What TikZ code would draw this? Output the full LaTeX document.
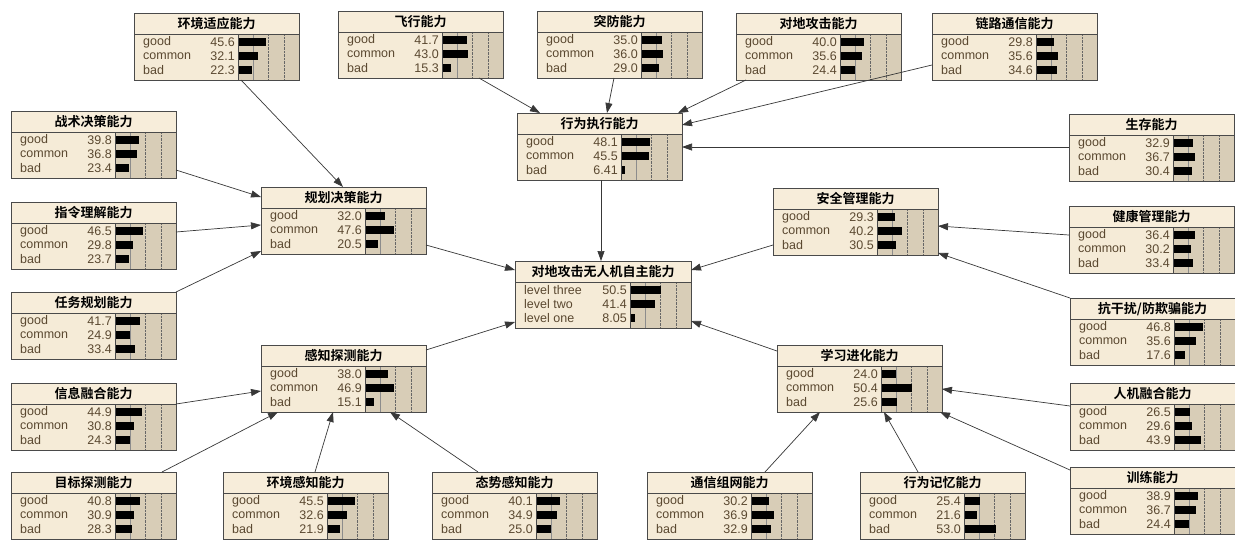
\documentclass[tikz,border=0pt]{standalone}
\usepackage{fontspec}
\setmainfont{Liberation Sans}
\newfontfamily\cjk{Noto Sans CJK SC}[BoldFont={Noto Sans CJK SC Bold}]
\usetikzlibrary{arrows.meta,calc}
\definecolor{titlefill}{HTML}{F7EDDA}
\definecolor{bodyfill}{HTML}{F5EBD7}
\definecolor{barfill}{HTML}{D8CDB7}
\definecolor{bordercol}{HTML}{4A4A4A}
\definecolor{txtcol}{HTML}{5A4830}
\definecolor{edgecol}{HTML}{383838}
\tikzset{
  boxnode/.style={draw=bordercol,line width=0.8pt,minimum height=67pt,anchor=north west,inner sep=0pt,outer sep=0pt},
  lbl/.style={anchor=west,inner sep=0pt,text=txtcol,font=\fontsize{12.5}{12.5}\selectfont},
  num/.style={anchor=east,inner sep=0pt,text=txtcol,font=\fontsize{12.5}{12.5}\selectfont},
  ttl/.style={inner sep=0pt,font=\cjk\bfseries\fontsize{13}{13}\selectfont},
  divline/.style={draw=bordercol,line width=0.7pt},
  gridA/.style={draw=black!45,line width=0.4pt},
  gridB/.style={draw=black!60,line width=0.4pt,densely dotted},
  arr/.style={draw=edgecol,line width=0.7pt,-{Triangle[length=10pt,width=7pt]}}
}
\newcommand{\bnet}[6][165]{%
  \fill[bodyfill] (#3,#4) rectangle ++(#1,67);
  \fill[titlefill] (#3,#4) rectangle ++(#1,21);
  \fill[barfill] (#3+#1-61,#4+21) rectangle (#3+#1,#4+67);
  \draw[gridA] (#3+#1-45.75,#4+21) -- (#3+#1-45.75,#4+67);
  \draw[gridB] (#3+#1-30.5,#4+21) -- (#3+#1-30.5,#4+67);
  \draw[gridB] (#3+#1-15.25,#4+21) -- (#3+#1-15.25,#4+67);
  \foreach \s/\v [count=\i] in {#6} {
    \fill[black] (#3+#1-61,#4+11+14*\i) rectangle ++(\v*0.61,8);
    \node[lbl] (#2-s\i) at (#3+9,#4+15+14*\i) {\s};
    \node[num] (#2-v\i) at (#3+#1-64,#4+15+14*\i) {\v};
  }
  \draw[divline] (#3+#1-61,#4+21) -- (#3+#1-61,#4+67);
  \draw[divline] (#3,#4+21) -- (#3+#1,#4+21);
  \node[ttl] (#2-t) at (#3+#1/2,#4+11) {#5};
  \node[boxnode,minimum width=#1pt] (#2) at (#3,#4) {};
}
\newcommand{\bnlink}[4]{\draw[arr] ($(#1.north west)+(#2)$) -- ($(#3.north west)+(#4)$);}
\begin{document}
\begin{tikzpicture}[x=1pt,y=-1pt]
\fill[white] (0,0) rectangle (1235,539);
\useasboundingbox (0,0) rectangle (1235,539);
\bnet{envA}{134}{13}{环境适应能力}{good/45.6,common/32.1,bad/22.3}
\bnet{fly}{338}{11}{飞行能力}{good/41.7,common/43.0,bad/15.3}
\bnet{pen}{537}{11}{突防能力}{good/35.0,common/36.0,bad/29.0}
\bnet{gatk}{736}{13}{对地攻击能力}{good/40.0,common/35.6,bad/24.4}
\bnet{link}{932}{13}{链路通信能力}{good/29.8,common/35.6,bad/34.6}
\bnet{exec}{517}{113}{行为执行能力}{good/48.1,common/45.5,bad/6.41}
\bnet{surv}{1069}{114}{生存能力}{good/32.9,common/36.7,bad/30.4}
\bnet{tact}{11}{111}{战术决策能力}{good/39.8,common/36.8,bad/23.4}
\bnet{plan}{261}{187}{规划决策能力}{good/32.0,common/47.6,bad/20.5}
\bnet{safe}{773}{188}{安全管理能力}{good/29.3,common/40.2,bad/30.5}
\bnet{cmd}{11}{202}{指令理解能力}{good/46.5,common/29.8,bad/23.7}
\bnet{health}{1069}{206}{健康管理能力}{good/36.4,common/30.2,bad/33.4}
\bnet[176]{root}{515}{261}{对地攻击无人机自主能力}{level three/50.5,level two/41.4,level one/8.05}
\bnet{task}{11}{292}{任务规划能力}{good/41.7,common/24.9,bad/33.4}
\bnet{anti}{1070}{298}{抗干扰/防欺骗能力}{good/46.8,common/35.6,bad/17.6}
\bnet{sense}{261}{345}{感知探测能力}{good/38.0,common/46.9,bad/15.1}
\bnet{learn}{777}{345}{学习进化能力}{good/24.0,common/50.4,bad/25.6}
\bnet{fuse}{11}{383}{信息融合能力}{good/44.9,common/30.8,bad/24.3}
\bnet{hmi}{1070}{383}{人机融合能力}{good/26.5,common/29.6,bad/43.9}
\bnet{tgt}{11}{472}{目标探测能力}{good/40.8,common/30.9,bad/28.3}
\bnet{envP}{223}{472}{环境感知能力}{good/45.5,common/32.6,bad/21.9}
\bnet{sit}{432}{472}{态势感知能力}{good/40.1,common/34.9,bad/25.0}
\bnet{net}{647}{472}{通信组网能力}{good/30.2,common/36.9,bad/32.9}
\bnet{mem}{860}{472}{行为记忆能力}{good/25.4,common/21.6,bad/53.0}
\bnet{train}{1070}{467}{训练能力}{good/38.9,common/36.7,bad/24.4}
% connectors
\bnlink{envA}{107,67}{plan}{82,0}
\bnlink{tact}{165,59}{plan}{0,10}
\bnlink{cmd}{165,30}{plan}{0,38}
\bnlink{task}{165,0}{plan}{0,64}
\bnlink{plan}{165,58}{root}{0,9}
\bnlink{fly}{141,67}{exec}{23,0}
\bnlink{pen}{77,67}{exec}{90,0}
\bnlink{gatk}{10,67}{exec}{161,0}
\bnlink{link}{0,52}{exec}{165,12}
\bnlink{surv}{0,33}{exec}{165,34}
\bnlink{exec}{84,67}{root}{86,0}
\bnlink{safe}{0,57}{root}{176,9}
\bnlink{health}{0,29}{safe}{165,38}
\bnlink{anti}{0,0}{safe}{165,65}
\bnlink{learn}{0,6}{root}{176,60}
\bnlink{sense}{165,5}{root}{0,61}
\bnlink{fuse}{165,21}{sense}{0,46}
\bnlink{tgt}{151,0}{sense}{17,67}
\bnlink{envP}{92,0}{sense}{72,67}
\bnlink{sit}{46,0}{sense}{129,67}
\bnlink{net}{118,0}{learn}{43,67}
\bnlink{mem}{58,0}{learn}{107,67}
\bnlink{train}{0,3}{learn}{163,67}
\bnlink{hmi}{0,23}{learn}{165,44}
\end{tikzpicture}
\end{document}
